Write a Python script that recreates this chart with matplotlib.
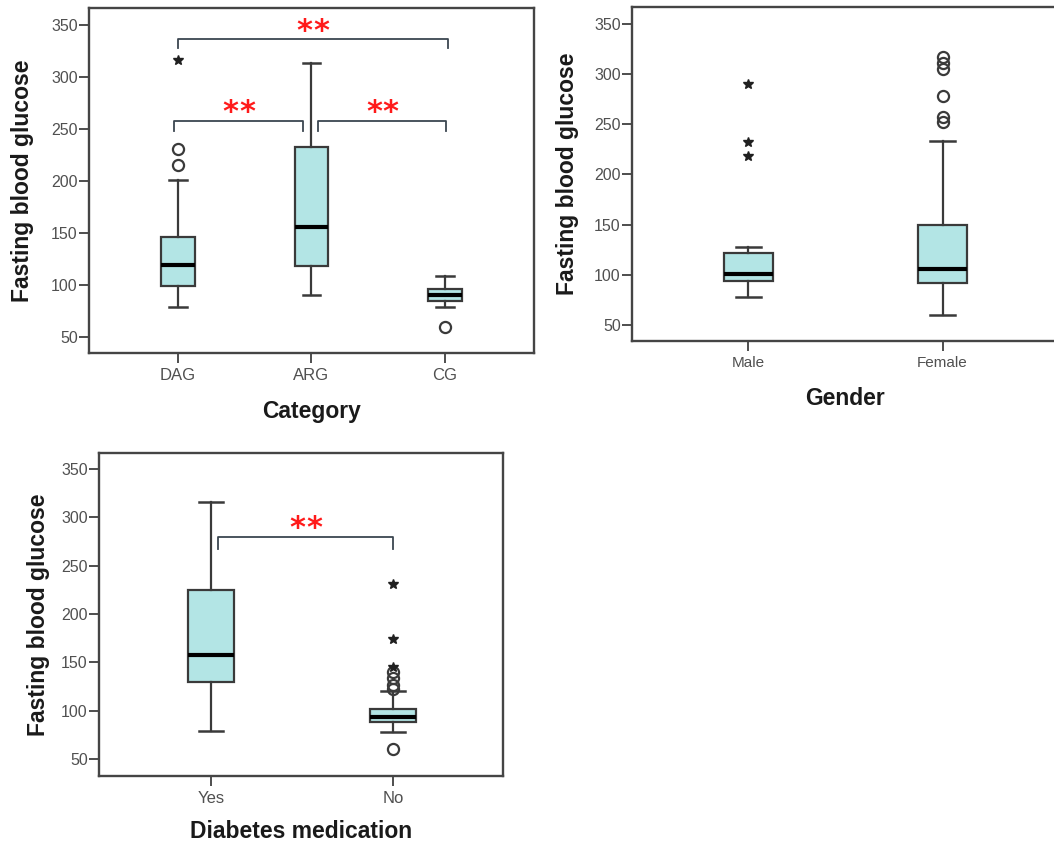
import matplotlib
matplotlib.use("Agg")
import matplotlib.pyplot as plt

plt.rcParams['font.family'] = ['Liberation Sans', 'DejaVu Sans']

# ---- Fasting blood glucose by category ----
cat_labels = ['DAG', 'ARG', 'CG']
cat_whislo = [79, 91, 79]
cat_q1 = [99, 118, 85]
cat_med = [119, 156, 91]
cat_q3 = [146, 233, 96]
cat_whishi = [201, 313, 109]
cat_circles = [[231, 215], [], [60]]
cat_stars = [[316], [], []]

# ---- by gender ----
gen_labels = ['Male', 'Female']
gen_whislo = [78, 60]
gen_q1 = [94, 92]
gen_med = [101, 106]
gen_q3 = [122, 150]
gen_whishi = [128, 233]
gen_circles = [[], [317, 311, 305, 278, 257, 252]]
gen_stars = [[290, 232, 218], []]

# ---- by diabetes medication ----
med_labels = ['Yes', 'No']
med_whislo = [79, 78]
med_q1 = [130, 88]
med_med = [158, 93]
med_q3 = [225, 102]
med_whishi = [316, 120]
med_circles = [[], [140, 134, 127, 122, 60]]
med_stars = [[], [231, 174, 145]]

yticks = [50, 100, 150, 200, 250, 300, 350]

BOX_FILL = '#b3e5e5'
EDGE = '#3a3a3a'
TICK_COLOR = '#505050'
BRACKET = '#3b4650'


def draw_panel(ax, labels, whislo, q1, med, q3, whishi, circles, stars,
               xlabel, tick_size):
    stats = []
    for i, lab in enumerate(labels):
        stats.append(dict(label=lab, whislo=whislo[i], q1=q1[i], med=med[i],
                          q3=q3[i], whishi=whishi[i], fliers=[]))
    pos = list(range(len(labels)))
    ax.bxp(stats, positions=pos, widths=0.25, capwidths=0.13,
           showfliers=False, patch_artist=True,
           boxprops=dict(facecolor=BOX_FILL, edgecolor=EDGE, linewidth=1.6),
           whiskerprops=dict(color=EDGE, linewidth=1.6),
           capprops=dict(color=EDGE, linewidth=1.8),
           medianprops=dict(color='black', linewidth=3.0))
    for i in pos:
        if circles[i]:
            ax.plot([i] * len(circles[i]), circles[i], 'o', ms=8,
                    mfc='none', mec=EDGE, mew=1.6, zorder=4)
        if stars[i]:
            ax.plot([i] * len(stars[i]), stars[i], '*', ms=7,
                    color='#202020', zorder=4)
    ax.set_yticks(yticks)
    ax.set_xticks(pos)
    ax.set_xticklabels(labels)
    for s in ax.spines.values():
        s.set_color('#454545')
        s.set_linewidth(1.7)
    ax.tick_params(axis='y', direction='out', length=7, width=1.3,
                   color='#404040', labelsize=11.5, labelcolor=TICK_COLOR,
                   pad=1)
    ax.tick_params(axis='x', direction='out', length=7, width=1.3,
                   color='#404040', labelsize=tick_size,
                   labelcolor=TICK_COLOR, pad=4)
    ax.text(-0.15, 0.5, 'Fasting blood glucose', transform=ax.transAxes,
            rotation=90, ha='center', va='center', fontsize=16.5,
            fontweight='bold', color='#1a1a1a')
    ax.text(0.5, -0.171, xlabel, transform=ax.transAxes, ha='center',
            va='center', fontsize=16.5, fontweight='bold', color='#1a1a1a')


def bracket(ax, x0, x1, y, leg):
    ax.plot([x0, x0, x1, x1], [y - leg, y, y, y - leg], color=BRACKET,
            linewidth=1.3, zorder=3)
    # two red asterisks marking significance, set slightly apart
    for dx in (-6, 6):
        ax.annotate('*', xy=((x0 + x1) / 2, y), xytext=(dx, -0.5),
                    textcoords='offset points', ha='center', va='baseline',
                    color='#ff1a1a', fontsize=22, fontweight='bold',
                    family='DejaVu Sans')


fig = plt.figure(figsize=(10.54, 8.43), dpi=100)

ax1 = fig.add_axes([0.0844, 0.5813, 0.4222, 0.4093])
draw_panel(ax1, cat_labels, cat_whislo, cat_q1, cat_med, cat_q3, cat_whishi,
           cat_circles, cat_stars, 'Category', 12)
ax1.set_xlim(-0.667, 2.667)
ax1.set_ylim(35, 366)
bracket(ax1, 0.0, 2.02, 336, 8)
bracket(ax1, -0.03, 0.94, 258, 10)
bracket(ax1, 1.05, 2.01, 258, 10)

ax2 = fig.add_axes([0.5996, 0.5955, 0.4051, 0.3962])
draw_panel(ax2, gen_labels, gen_whislo, gen_q1, gen_med, gen_q3, gen_whishi,
           gen_circles, gen_stars, 'Gender', 11)
ax2.set_xlim(-0.6, 1.6)
ax2.set_ylim(34, 367)

ax3 = fig.add_axes([0.0939, 0.0795, 0.3833, 0.3832])
draw_panel(ax3, med_labels, med_whislo, med_q1, med_med, med_q3, med_whishi,
           med_circles, med_stars, 'Diabetes medication', 12)
ax3.set_xlim(-0.615, 1.604)
ax3.set_ylim(32.4, 366.5)
bracket(ax3, 0.04, 1.0, 280, 13)

fig.savefig('out.png', dpi=100)
